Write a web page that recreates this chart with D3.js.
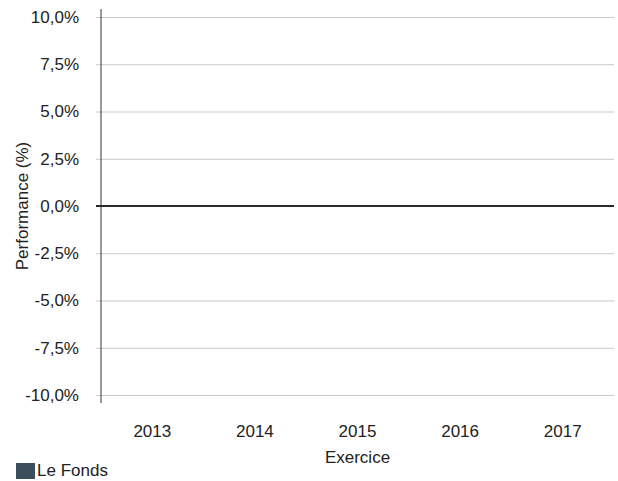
<!DOCTYPE html>
<html lang="en">
  <head>
    <meta charset="utf-8">
    <title>Performance</title>
    <script src="https://cdnjs.cloudflare.com/ajax/libs/d3/7.8.5/d3.min.js"></script>
    <style>
      body { margin: 0; background: #fff; font-family: "Liberation Sans", Arial, sans-serif; overflow: hidden; }
      text { fill: #222; }
    </style>
  </head>
  <body>
    <div id="chart"></div>
    <script type="text/javascript">

    // data: no bar is visible, so every value is empty
    const years = ["2013", "2014", "2015", "2016", "2017"];
    const fundValues = [null, null, null, null, null];
    const yTicks = [-10, -7.5, -5, -2.5, 0, 2.5, 5, 7.5, 10];
    const seriesName = "Le Fonds";

    const w = 618, h = 481;
    const mLeft = 101, mRight = 614, mTop = 17, mBottom = 395;
    const fundColor = "#3b4f5b";
    const fs = "17px";

    const svg = d3.select("#chart").append("svg")
      .attr("width", w)
      .attr("height", h)
      .style("display", "block");

    const x = d3.scaleBand()
      .domain(years)
      .range([mLeft, mRight])
      .paddingInner(0.3)
      .paddingOuter(0.15);

    const y = d3.scaleLinear()
      .domain([-10, 10])
      .range([mBottom, mTop]);

    const fmt = d => d3.format(".1f")(d).replace(".", ",").replace("−", "-") + "%";

    // gridlines + y labels
    const yAxis = d3.axisLeft(y)
      .tickValues(yTicks)
      .tickSize(0)
      .tickFormat(fmt);

    const gy = svg.append("g")
      .attr("transform", "translate(" + mLeft + ",0)")
      .call(yAxis);
    gy.select(".domain").remove();
    gy.selectAll(".tick line")
      .attr("x1", -5)
      .attr("x2", mRight - mLeft)
      .attr("stroke", "#c8c8c8");
    gy.selectAll(".tick text")
      .attr("x", -22)
      .style("font-size", fs)
      .style("font-family", "Liberation Sans, Arial, sans-serif")
      .attr("fill", "#222");

    // vertical axis line
    svg.append("line")
      .attr("x1", mLeft).attr("x2", mLeft)
      .attr("y1", mTop - 8).attr("y2", mBottom + 8)
      .attr("stroke", "#333")
      .attr("stroke-width", 1);

    // bars (none visible)
    svg.selectAll("rect.bar")
      .data(years.map((d, i) => ({year: d, v: fundValues[i]})).filter(d => d.v != null))
      .enter()
      .append("rect")
      .attr("class", "bar")
      .attr("x", d => x(d.year))
      .attr("width", x.bandwidth())
      .attr("y", d => Math.min(y(d.v), y(0)))
      .attr("height", d => Math.abs(y(d.v) - y(0)))
      .attr("fill", fundColor);

    // zero line
    svg.append("line")
      .attr("x1", mLeft - 5).attr("x2", mRight)
      .attr("y1", y(0)).attr("y2", y(0))
      .attr("stroke", "#2a2a2a")
      .attr("stroke-width", 2);

    // x labels
    const xAxis = d3.axisBottom(x).tickSize(0).tickPadding(0);
    const gx = svg.append("g")
      .attr("transform", "translate(0,437)")
      .call(xAxis);
    gx.select(".domain").remove();
    gx.selectAll(".tick text")
      .attr("dy", 0)
      .style("font-size", fs)
      .style("font-family", "Liberation Sans, Arial, sans-serif")
      .attr("fill", "#222");

    svg.append("text")
      .attr("x", (mLeft + mRight) / 2)
      .attr("y", 463)
      .attr("text-anchor", "middle")
      .style("font-size", fs)
      .text("Exercice");

    svg.append("text")
      .attr("transform", "rotate(-90)")
      .attr("x", -y(0))
      .attr("y", 28)
      .attr("text-anchor", "middle")
      .style("font-size", fs)
      .text("Performance (%)");

    // legend
    svg.append("rect")
      .attr("x", 16).attr("y", 463)
      .attr("width", 19).attr("height", 16)
      .attr("fill", fundColor);
    svg.append("text")
      .attr("x", 37).attr("y", 476)
      .style("font-size", fs)
      .text(seriesName);
    </script>
  </body>
</html>
